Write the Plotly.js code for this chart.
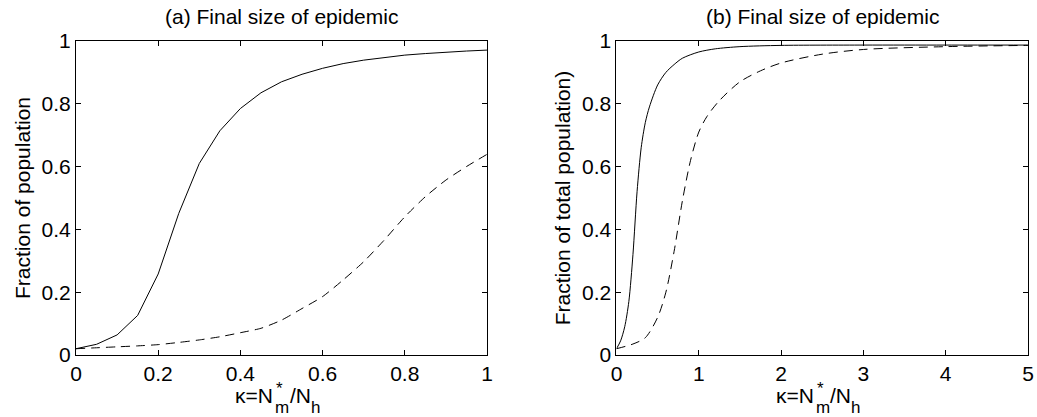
<!DOCTYPE html>
<html>
<head>
<meta charset="utf-8">
<script src="https://cdn.plot.ly/plotly-3.0.1.min.js"></script>
<style>html,body{margin:0;padding:0;background:#fff;}#chart{width:1037px;height:417px;}</style>
</head>
<body>
<div id="chart"></div>
<script>
// Panel (a)
const kappaA = [0,0.05,0.1,0.15,0.2,0.25,0.3,0.35,0.4,0.45,0.5,0.55,0.6,0.65,0.7,0.75,0.8,0.85,0.9,0.95,1.0];
const solidA = [0.020,0.034,0.064,0.126,0.258,0.451,0.610,0.714,0.785,0.835,0.870,0.894,0.913,0.928,0.939,0.947,0.955,0.960,0.965,0.968,0.971];
const dashedA = [0.020,0.023,0.026,0.029,0.033,0.040,0.048,0.058,0.071,0.085,0.111,0.148,0.186,0.239,0.297,0.366,0.440,0.504,0.557,0.600,0.639];

// Panel (b)
const kappaBsolid = [0,0.05,0.1,0.15,0.2,0.25,0.3,0.35,0.4,0.5,0.6,0.7,0.8,1.0,1.2,1.5,2,3,4,5];
const solidB = [0.020,0.045,0.090,0.170,0.320,0.520,0.660,0.740,0.790,0.860,0.900,0.925,0.945,0.965,0.975,0.982,0.986,0.987,0.987,0.987];
const kappaBdashed = [0,0.2,0.35,0.5,0.6,0.7,0.8,0.9,1.0,1.1,1.25,1.5,1.75,2,2.5,3,4,5];
const dashedB = [0.020,0.035,0.055,0.120,0.200,0.330,0.490,0.620,0.710,0.760,0.810,0.870,0.905,0.930,0.958,0.973,0.982,0.986];

// Text
const titleA = '(a) Final size of epidemic';
const titleB = '(b) Final size of epidemic';
const xTitleMain = '\u03BA=N';     // κ=N
const xTitleStar = '*';            // superscript
const xTitleSub1 = 'm';            // subscript
const xTitleMid = '/N';
const xTitleSub2 = 'h';            // subscript
const yTitleA = 'Fraction of population';
const yTitleB = 'Fraction of total population)';
const ticksA = [0,0.2,0.4,0.6,0.8,1];
const tickTextA = ['0','0.2','0.4','0.6','0.8','1'];
const ticksB = [0,1,2,3,4,5];
const tickTextB = ['0','1','2','3','4','5'];
const yTicks = [0,0.2,0.4,0.6,0.8,1];
const yTickText = ['0','0.2','0.4','0.6','0.8','1'];

const FONT = 'Liberation Sans, Arial, Helvetica, sans-serif';
const FS = 21, FS_SMALL = 17;
const H = 417;
const solidLine = {color:'#000', width:1};
const dashLine = {color:'#000', width:1, dash:'9px,6px'};

const traces = [
  {x:kappaA, y:solidA, mode:'lines', line:solidLine, xaxis:'x', yaxis:'y', name:'solid a'},
  {x:kappaA, y:dashedA, mode:'lines', line:Object.assign({shape:'spline', smoothing:0.6}, dashLine), xaxis:'x', yaxis:'y', name:'dashed a'},
  {x:kappaBsolid, y:solidB, mode:'lines', line:Object.assign({shape:'spline', smoothing:0.8}, solidLine), xaxis:'x2', yaxis:'y2', name:'solid b'},
  {x:kappaBdashed, y:dashedB, mode:'lines', line:Object.assign({shape:'spline', smoothing:0.8}, dashLine), xaxis:'x2', yaxis:'y2', name:'dashed b'}
];

function axisBase(){
  return {
    showgrid:false, zeroline:false, showline:true, linecolor:'#000', linewidth:1,
    mirror:'ticks', ticks:'inside', ticklen:5, tickcolor:'#000', tickwidth:1,
    tickfont:{family:FONT, size:FS, color:'#000'}, automargin:false, fixedrange:true
  };
}
const domA = [0.0733,0.4696], domB = [0.5945,0.9913], domY = [0.1487,0.9017];
const xa = Object.assign(axisBase(), {domain:domA, range:[0,1], tickvals:ticksA, ticktext:tickTextA, anchor:'y'});
const ya = Object.assign(axisBase(), {domain:domY, range:[0,1], tickvals:yTicks, ticktext:yTickText, anchor:'x',
  title:{text:yTitleA, font:{family:FONT, size:FS, color:'#000'}, standoff:5}});
const xb = Object.assign(axisBase(), {domain:domB, range:[0,5], tickvals:ticksB, ticktext:tickTextB, anchor:'y2'});
const yb = Object.assign(axisBase(), {domain:domY, range:[0,1], tickvals:yTicks, ticktext:yTickText, anchor:'x2',
  title:{text:yTitleB, font:{family:FONT, size:FS, color:'#000'}, standoff:5}});

function ann(text, xc, xshift, xanchor, ypx, size){
  return {text:text, xref:'paper', yref:'paper', x:xc, y:1-ypx/H, xshift:xshift, xanchor:xanchor, yanchor:'middle',
    showarrow:false, borderpad:0, font:{family:FONT, size:size, color:'#000'}};
}
function xTitleAnns(xc){
  const wSub1 = 0.833*FS_SMALL;          // width of 'm'
  const wMid = (0.278+0.722)*FS;         // width of '/N'
  const p = -7;
  return [
    ann(xTitleMain, xc, p, 'right', 395.4, FS),
    ann(xTitleStar, xc, p+1, 'left', 388, FS_SMALL),
    ann(xTitleSub1, xc, p, 'left', 407, FS_SMALL),
    ann(xTitleMid, xc, p+wSub1, 'left', 395.4, FS),
    ann(xTitleSub2, xc, p+wSub1+wMid, 'left', 407, FS_SMALL)
  ];
}
const cA = (domA[0]+domA[1])/2, cB = (domB[0]+domB[1])/2;

const layout = {
  width:1037, height:417, margin:{l:0,r:0,t:0,b:0},
  paper_bgcolor:'#fff', plot_bgcolor:'#fff', showlegend:false,
  font:{family:FONT, color:'#000'},
  xaxis:xa, yaxis:ya, xaxis2:xb, yaxis2:yb,
  annotations:[
    ann(titleA, cA, 0, 'center', 17, FS),
    ann(titleB, cB, 0, 'center', 17, FS)
  ].concat(xTitleAnns(cA), xTitleAnns(cB))
};
Plotly.newPlot('chart', traces, layout, {staticPlot:true, displayModeBar:false});
</script>
</body>
</html>
